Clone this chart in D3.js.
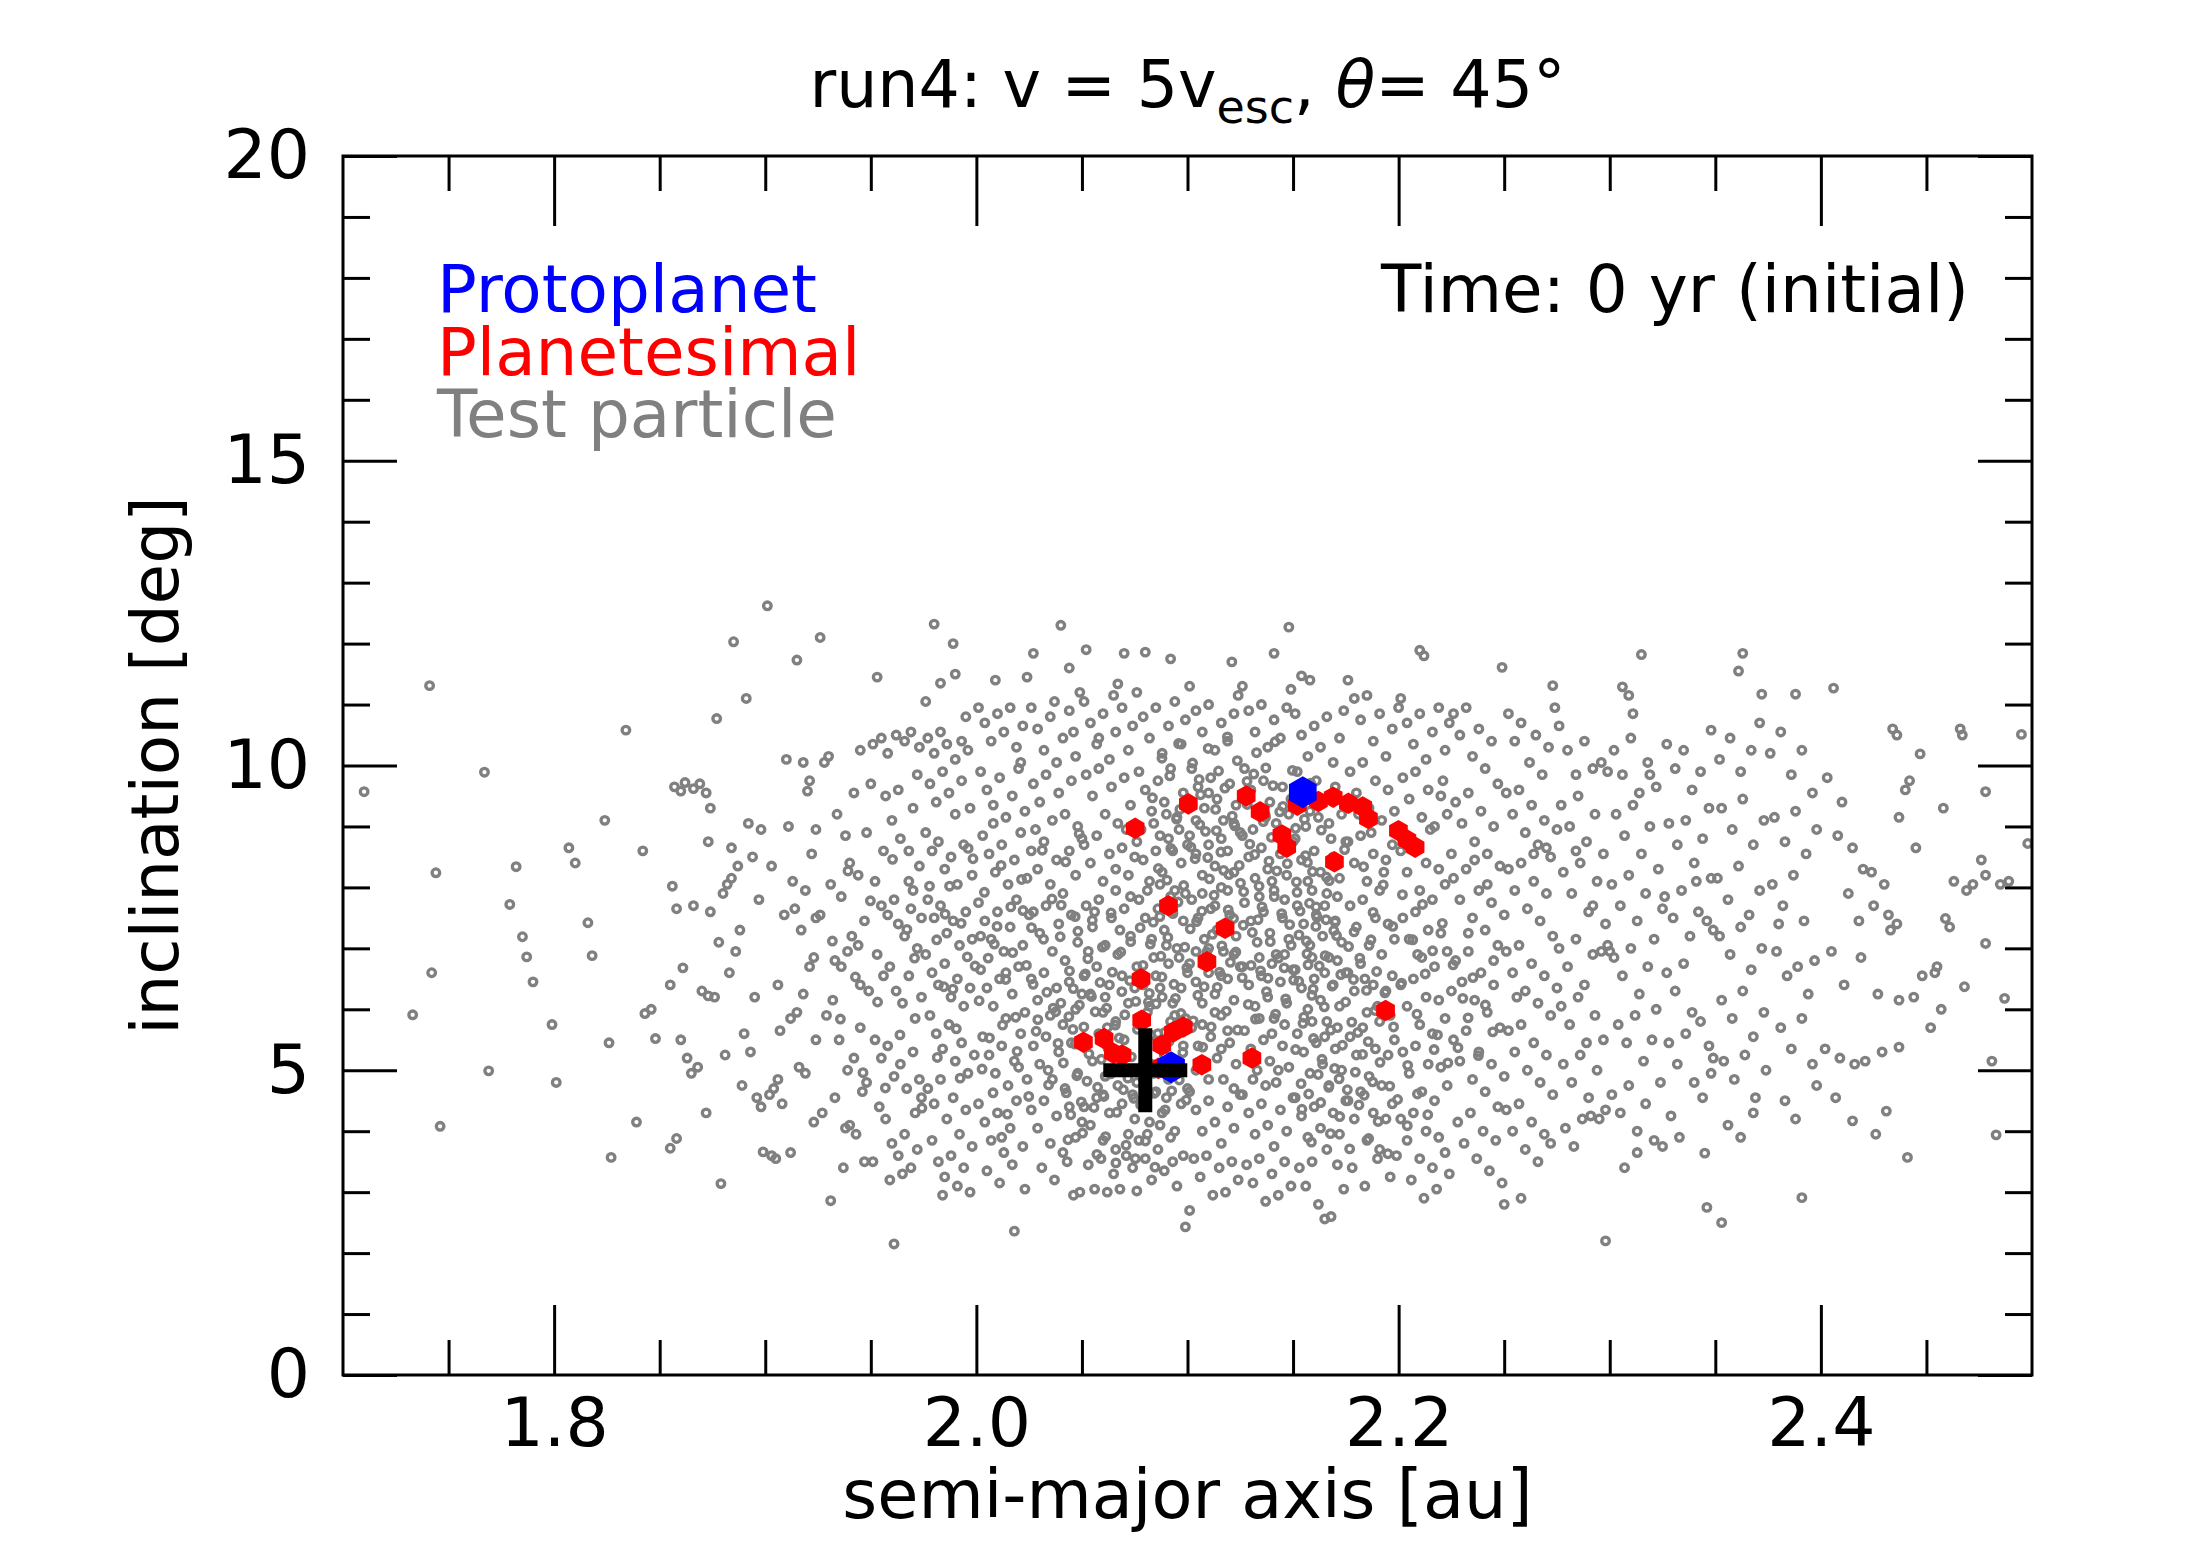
<!DOCTYPE html>
<html>
<head>
<meta charset="utf-8">
<script src="https://cdn.jsdelivr.net/npm/d3@7"></script>
<style>
  html, body { margin: 0; padding: 0; background: #fff; }
  svg text { font-family: "DejaVu Sans", sans-serif; }
</style>
</head>
<body>
<div id="chart"></div>
<script>
'use strict';

// tick values
var xMajor = [1.8, 2.0, 2.2, 2.4];
var xMinor = [1.75, 1.85, 1.9, 1.95, 2.05, 2.1, 2.15, 2.25, 2.3, 2.35, 2.45];
var yMajor = [0, 5, 10, 15, 20];
var yMinor = [1, 2, 3, 4, 6, 7, 8, 9, 11, 12, 13, 14, 16, 17, 18, 19];

// [semi-major axis au, inclination deg]
var protoplanets = [[2.1546, 9.56], [2.0922, 5.05]];
var target = [2.08, 5.0];

var planetesimals = [
  [2.0752, 8.97], [2.1004, 9.37], [2.1278, 9.50], [2.1344, 9.24], [2.1447, 8.86],
  [2.1470, 8.66], [2.1520, 9.35], [2.1620, 9.41], [2.1690, 9.48], [2.1762, 9.38],
  [2.1830, 9.32], [2.1857, 9.13], [2.1999, 8.93], [2.2039, 8.78], [2.2078, 8.66],
  [2.1696, 8.42], [2.0910, 7.70], [2.1178, 7.33], [2.1092, 6.78], [2.0780, 6.50],
  [2.1938, 5.98], [2.0507, 5.46], [2.0605, 5.52], [2.0649, 5.28], [2.0690, 5.25],
  [2.0783, 5.82], [2.0878, 5.41], [2.0933, 5.63], [2.0980, 5.71], [2.0862, 5.03],
  [2.1068, 5.09], [2.1305, 5.20]
];

var testLeft = [
  [1.710,9.57],[1.733,5.91],[1.741,11.31],[1.744,8.24],[1.742,6.60],[1.746,4.08],
  [1.767,9.89],[1.769,4.99],[1.779,7.72],[1.782,8.34],[1.785,7.19],[1.787,6.86],[1.790,6.45],[1.799,5.75],[1.801,4.80],
  [1.807,8.65],[1.810,8.40],[1.816,7.42],[1.818,6.88],[1.824,9.10],[1.826,5.45],[1.827,3.57],[1.834,10.58],[1.839,4.15],[1.842,8.60],[1.843,5.93],[1.846,6.00],[1.848,5.52],
  [1.857,9.65],[1.860,9.58],[1.862,9.72],[1.866,9.62],[1.869,9.70],[1.872,9.55],[1.856,8.02],[1.858,7.65],[1.855,6.40],[1.860,5.50],[1.863,5.20],[1.865,4.95],[1.868,5.05],[1.855,3.72],[1.858,3.88],[1.870,6.30],[1.873,6.22],[1.872,4.30],[1.861,6.68],[1.866,7.70],[1.874,7.60],[1.873,8.75],[1.874,9.30],
  [1.877,10.77],[1.885,12.03],[1.891,11.10],[1.880,7.90],[1.882,8.05],[1.884,8.15],[1.887,8.35],[1.879,3.14],[1.883,6.60],[1.886,6.95],[1.888,7.30],[1.892,9.05],[1.894,8.50],[1.878,7.10],[1.890,5.60],[1.893,5.30],[1.896,4.55],[1.898,4.40],[1.899,3.66],[1.897,7.80],[1.895,6.20],[1.881,5.25],[1.876,6.20],[1.889,4.75],[1.884,8.65],[1.898,8.95],
  [1.901,12.62],[1.910,10.10],[1.915,11.73],[1.920,9.58],[1.903,3.60],[1.905,3.55],[1.902,4.60],[1.904,4.70],[1.906,4.85],[1.908,4.45],[1.911,9.00],[1.913,8.10],[1.917,7.30],[1.919,7.95],[1.921,6.70],[1.907,5.65],[1.912,5.85],[1.915,5.95],[1.918,6.25],[1.923,6.85],[1.909,7.55],[1.914,7.65],[1.922,8.55],[1.924,8.95],[1.903,8.35],[1.916,5.05],[1.919,4.95],[1.924,5.50],[1.912,3.65],[1.921,9.75],[1.918,10.05],[1.924,7.50],[1.906,6.40],[1.923,4.15],
  [1.926,12.10],[1.931,2.86],[1.928,10.05],[1.930,10.15],[1.934,9.20],[1.938,8.85],[1.940,8.40],[1.942,9.55],[1.945,10.25],[1.933,6.80],[1.936,6.70],[1.939,6.95],[1.941,7.20],[1.944,7.05],[1.947,7.45],[1.929,5.90],[1.932,6.15],[1.935,5.50],[1.938,4.05],[1.940,4.10],[1.943,3.95],[1.946,4.65],[1.948,4.80],[1.927,4.30],[1.937,3.40],[1.942,5.20],[1.945,5.70],[1.949,6.30],[1.931,8.05],[1.936,7.85],[1.944,8.20],[1.948,8.90],[1.950,9.70],[1.926,7.55],[1.939,5.00],[1.947,3.50],[1.933,4.55],[1.945,6.40]
];

var testMidLeft = [
  [1.953,11.45],[1.961,2.15],[1.951,10.35],[1.955,10.45],[1.958,10.20],[1.962,10.50],[1.966,10.40],[1.969,10.55],[1.972,9.85],[1.957,9.50],[1.960,9.10],[1.964,8.80],[1.968,8.60],[1.970,9.30],[1.973,8.35],[1.952,8.10],[1.955,7.70],[1.958,7.55],[1.961,7.80],[1.963,7.40],[1.966,7.20],[1.969,7.65],[1.972,7.00],[1.974,7.50],[1.953,6.90],[1.956,6.55],[1.959,6.70],[1.962,6.30],[1.965,6.10],[1.968,6.55],[1.971,5.85],[1.974,6.20],[1.952,5.50],[1.955,5.20],[1.958,5.40],[1.961,4.90],[1.964,5.10],[1.967,4.70],[1.970,5.30],[1.973,4.85],[1.954,4.40],[1.957,4.20],[1.960,3.80],[1.963,3.60],[1.966,3.95],[1.969,3.40],[1.972,3.70],[1.959,3.20],[1.965,3.30],[1.971,4.30],[1.974,4.55],[1.951,3.50],[1.968,8.10],[1.956,8.60],[1.970,7.95],[1.963,9.60],[1.973,10.30],
  [1.980,12.32],[1.989,12.00],[1.977,10.45],[1.980,10.20],[1.983,10.55],[1.986,10.35],[1.990,10.10],[1.993,10.40],[1.996,10.25],[1.978,9.70],[1.981,9.40],[1.984,9.90],[1.987,9.55],[1.990,9.20],[1.993,9.75],[1.997,9.30],[1.976,8.90],[1.979,8.60],[1.982,8.75],[1.985,8.30],[1.988,8.50],[1.991,8.05],[1.994,8.70],[1.998,8.20],[1.977,7.80],[1.980,7.50],[1.983,7.70],[1.986,7.25],[1.989,7.45],[1.992,7.05],[1.995,7.60],[1.998,7.15],[1.976,6.90],[1.979,6.60],[1.982,6.40],[1.985,6.75],[1.988,6.20],[1.991,6.50],[1.994,6.05],[1.997,6.35],[1.978,5.90],[1.981,5.60],[1.984,5.35],[1.987,5.75],[1.990,5.15],[1.993,5.45],[1.996,4.95],[1.999,5.25],[1.977,4.70],[1.980,4.45],[1.983,4.85],[1.986,4.20],[1.989,4.55],[1.992,3.95],[1.995,4.35],[1.998,3.75],[1.979,3.85],[1.982,3.50],[1.985,3.25],[1.988,3.60],[1.991,3.10],[1.994,3.40],[1.997,3.00],[1.984,2.95],[1.990,11.50],[1.983,11.35],[1.995,10.80],[1.976,11.05],
  [2.009,11.40],[2.018,2.36],[2.001,10.95],[2.004,10.70],[2.007,10.40],[2.010,10.85],[2.013,10.55],[2.016,10.95],[2.019,10.30],[2.022,10.65],[2.024,11.45],[2.002,9.90],[2.005,9.60],[2.008,9.35],[2.011,9.80],[2.014,9.15],[2.017,9.50],[2.020,9.95],[2.023,9.25],[2.003,8.85],[2.006,8.55],[2.009,8.25],[2.012,8.70],[2.015,8.05],[2.018,8.45],[2.021,8.90],[2.024,8.15],[2.001,7.75],[2.004,7.45],[2.007,7.15],[2.010,7.60],[2.013,6.95],[2.016,7.35],[2.019,7.80],[2.022,7.05],[2.025,7.55],[2.002,6.65],[2.005,6.35],[2.008,6.05],[2.011,6.50],[2.014,5.85],[2.017,6.25],[2.020,6.70],[2.023,5.95],[2.003,5.55],[2.006,5.25],[2.009,4.95],[2.012,5.40],[2.015,4.75],[2.018,5.15],[2.021,5.60],[2.024,4.85],[2.001,4.45],[2.004,4.15],[2.007,3.85],[2.010,4.30],[2.013,3.65],[2.016,4.05],[2.019,4.50],[2.022,3.75],[2.005,3.35],[2.011,3.15],[2.017,3.45],[2.023,3.05],[2.008,9.05],[2.014,6.60],[2.020,5.05],[2.002,7.20],[2.012,3.90],[2.021,10.05],
  [2.027,11.84],[2.040,12.30],[2.026,10.95],[2.029,10.60],[2.032,10.25],[2.035,10.80],[2.038,10.05],[2.041,10.45],[2.044,10.90],[2.047,10.15],[2.049,11.20],[2.027,9.70],[2.030,9.40],[2.033,9.85],[2.036,9.10],[2.039,9.55],[2.042,9.20],[2.045,9.75],[2.048,9.00],[2.026,8.60],[2.029,8.30],[2.032,8.75],[2.035,8.05],[2.038,8.45],[2.041,7.90],[2.044,8.60],[2.047,8.20],[2.050,8.80],[2.027,7.60],[2.030,7.25],[2.033,7.70],[2.036,6.95],[2.039,7.40],[2.042,6.80],[2.045,7.55],[2.048,7.10],[2.026,6.50],[2.029,6.15],[2.032,6.60],[2.035,5.90],[2.038,6.35],[2.041,5.75],[2.044,6.45],[2.047,6.00],[2.050,6.25],[2.027,5.40],[2.030,5.10],[2.033,5.55],[2.036,4.85],[2.039,5.30],[2.042,4.70],[2.045,5.45],[2.048,4.95],[2.026,4.35],[2.029,4.05],[2.032,4.50],[2.035,3.80],[2.038,4.25],[2.041,3.65],[2.044,4.40],[2.047,3.90],[2.050,4.15],[2.031,3.40],[2.037,3.20],[2.043,3.50],[2.049,3.00],[2.046,2.95],[2.034,5.00],[2.040,6.10],[2.028,8.95],[2.046,10.55],[2.037,11.05],[2.044,11.60]
];

var testCore = [
  [2.052,11.90],[2.070,11.84],[2.067,11.34],[2.051,11.05],[2.054,10.70],[2.057,10.35],[2.060,10.85],[2.063,10.10],[2.066,10.55],[2.069,10.95],[2.072,10.25],[2.074,10.65],[2.052,9.85],[2.055,9.50],[2.058,9.95],[2.061,9.20],[2.064,9.65],[2.067,9.05],[2.070,9.80],[2.073,9.35],[2.051,8.70],[2.054,8.40],[2.057,8.85],[2.060,8.10],[2.063,8.55],[2.066,7.95],[2.069,8.65],[2.072,8.20],[2.075,8.50],[2.052,7.70],[2.055,7.35],[2.058,7.80],[2.061,7.05],[2.064,7.50],[2.067,6.90],[2.070,7.65],[2.073,7.20],[2.051,6.55],[2.054,6.25],[2.057,6.70],[2.060,5.95],[2.063,6.40],[2.066,5.80],[2.069,6.55],[2.072,6.10],[2.075,6.35],[2.052,5.45],[2.055,5.15],[2.058,5.60],[2.061,4.90],[2.064,5.35],[2.067,4.75],[2.070,5.50],[2.073,5.00],[2.051,4.40],[2.054,4.10],[2.057,4.55],[2.060,3.85],[2.063,4.30],[2.066,3.70],[2.069,4.45],[2.072,3.95],[2.075,4.20],[2.053,3.45],[2.056,3.05],[2.059,3.55],[2.062,3.00],[2.065,3.30],[2.068,3.05],[2.071,3.60],[2.074,3.40],[2.058,10.45],[2.065,11.15],[2.061,6.20],[2.068,7.30],[2.056,7.60],[2.071,8.95],[2.062,5.70],[2.074,4.60],[2.053,6.95],[2.066,8.30],[2.073,7.85],[2.060,4.60],
  [2.080,11.86],[2.092,11.75],[2.076,11.20],[2.079,10.80],[2.082,10.45],[2.085,10.95],[2.088,10.20],[2.091,10.65],[2.094,11.05],[2.097,10.35],[2.099,10.75],[2.077,9.90],[2.080,9.60],[2.083,9.25],[2.086,9.75],[2.089,9.40],[2.092,9.95],[2.095,9.15],[2.098,9.55],[2.076,8.75],[2.079,8.45],[2.082,8.10],[2.085,8.60],[2.088,8.25],[2.091,8.80],[2.094,7.95],[2.097,8.40],[2.100,8.70],[2.077,7.80],[2.080,7.50],[2.083,7.15],[2.086,7.65],[2.089,7.30],[2.092,7.85],[2.095,7.00],[2.098,7.45],[2.076,6.70],[2.079,6.40],[2.082,6.05],[2.085,6.55],[2.088,6.20],[2.091,6.75],[2.094,5.90],[2.097,6.35],[2.100,6.60],[2.077,5.75],[2.080,5.45],[2.083,5.10],[2.086,5.60],[2.089,5.25],[2.092,5.80],[2.095,4.95],[2.098,5.40],[2.076,4.80],[2.079,4.50],[2.082,4.15],[2.085,4.65],[2.088,4.30],[2.091,4.85],[2.094,4.00],[2.097,4.45],[2.100,4.70],[2.077,3.85],[2.080,3.55],[2.083,3.20],[2.086,3.70],[2.089,3.35],[2.092,3.90],[2.095,3.10],[2.098,3.60],[2.099,2.43],[2.101,2.70],[2.076,3.02],[2.078,8.95],[2.084,9.05],[2.087,8.85],[2.090,9.20],[2.093,8.60],[2.096,8.95],[2.081,7.95],[2.087,8.05],[2.093,7.60],[2.099,7.90],[2.084,6.85],[2.090,7.05],[2.096,6.85],[2.081,5.95],[2.087,6.35],[2.093,6.10],[2.099,5.85],[2.084,4.95],[2.090,4.55],[2.096,5.15],[2.081,3.95],[2.087,4.10],[2.093,3.50],
  [2.121,11.70],[2.101,11.30],[2.104,10.90],[2.107,10.55],[2.110,11.00],[2.113,10.25],[2.116,10.70],[2.119,10.40],[2.122,10.85],[2.124,11.15],[2.102,9.95],[2.105,9.65],[2.108,9.30],[2.111,9.80],[2.114,9.45],[2.117,9.10],[2.120,9.70],[2.123,9.35],[2.101,8.85],[2.104,8.55],[2.107,8.20],[2.110,8.70],[2.113,8.35],[2.116,8.00],[2.119,8.60],[2.122,8.25],[2.125,8.90],[2.102,7.80],[2.105,7.50],[2.108,7.15],[2.111,7.65],[2.114,7.30],[2.117,6.95],[2.120,7.55],[2.123,7.20],[2.101,6.75],[2.104,6.45],[2.107,6.10],[2.110,6.60],[2.113,6.25],[2.116,5.90],[2.119,6.50],[2.122,6.15],[2.125,6.70],[2.102,5.70],[2.105,5.40],[2.108,5.05],[2.111,5.55],[2.114,5.20],[2.117,4.85],[2.120,5.45],[2.123,5.10],[2.101,4.65],[2.104,4.35],[2.107,4.00],[2.110,4.50],[2.113,4.15],[2.116,3.80],[2.119,4.40],[2.122,4.05],[2.125,4.60],[2.103,3.55],[2.106,3.25],[2.109,3.60],[2.112,2.95],[2.115,3.40],[2.118,3.00],[2.121,3.50],[2.124,3.20],[2.104,9.10],[2.110,9.55],[2.116,8.80],[2.122,9.05],[2.107,7.90],[2.113,7.70],[2.119,7.95],[2.104,6.95],[2.110,7.00],[2.116,6.55],[2.122,6.90],[2.107,5.75],[2.113,5.95],[2.119,5.65],[2.104,5.00],[2.110,4.85],[2.116,5.35],[2.122,4.70],
  [2.141,11.84],[2.148,12.27],[2.126,11.30],[2.129,10.90],[2.132,10.55],[2.135,11.00],[2.138,10.30],[2.141,10.75],[2.144,10.45],[2.147,10.95],[2.149,11.25],[2.127,9.95],[2.130,9.60],[2.133,9.25],[2.136,9.75],[2.139,9.40],[2.142,9.05],[2.145,9.65],[2.148,9.20],[2.126,8.85],[2.129,8.50],[2.132,8.15],[2.135,8.65],[2.138,8.30],[2.141,7.95],[2.144,8.55],[2.147,8.20],[2.150,8.75],[2.127,7.75],[2.130,7.45],[2.133,7.10],[2.136,7.60],[2.139,7.25],[2.142,6.90],[2.145,7.50],[2.148,7.15],[2.126,6.70],[2.129,6.40],[2.132,6.05],[2.135,6.55],[2.138,6.20],[2.141,5.85],[2.144,6.45],[2.147,6.10],[2.150,6.65],[2.127,5.65],[2.130,5.35],[2.133,5.00],[2.136,5.50],[2.139,5.15],[2.142,4.80],[2.145,5.40],[2.148,5.05],[2.126,4.60],[2.129,4.30],[2.132,3.95],[2.135,4.45],[2.138,4.10],[2.141,3.75],[2.144,4.35],[2.147,4.00],[2.150,4.55],[2.128,3.45],[2.131,3.15],[2.134,3.55],[2.137,2.85],[2.140,3.30],[2.143,2.95],[2.146,3.50],[2.149,3.10],[2.131,8.95],[2.137,9.15],[2.143,8.85],[2.149,9.45],[2.134,7.85],[2.140,8.10],[2.146,7.80],[2.134,6.85],[2.140,6.75],[2.146,6.90],[2.134,5.85],[2.140,5.60],[2.146,5.75],[2.131,4.85],[2.137,4.75],[2.143,5.00]
];

// extra particles in the crowded centre of the cloud
var testDense = [
  [2.0815,6.12],[2.0838,7.43],[2.0862,8.31],[2.0874,6.87],[2.0893,5.62],[2.0907,7.18],[2.0921,8.64],[2.0936,6.41],[2.0948,9.12],[2.0955,7.76],[2.0969,5.93],[2.0982,8.03],[2.0997,6.68],[2.1008,9.41],[2.1013,7.32],[2.1027,5.81],[2.1036,8.47],[2.1049,6.23],[2.1055,9.77],[2.1068,7.61],[2.1072,5.38],[2.1085,8.92],[2.1091,6.94],[2.1104,8.14],[2.1112,5.71],[2.1126,7.87],[2.1133,9.28],[2.1141,6.36],[2.1158,8.58],[2.1163,7.04],[2.1177,9.63],[2.1184,5.97],[2.1196,8.21],[2.1203,6.77],[2.1218,7.49],[2.1224,9.01],[2.1237,5.66],[2.1245,8.36],[2.1259,6.52],[2.1266,7.93],[2.1273,9.54],[2.1288,6.08],[2.1295,8.71],[2.1307,7.26],[2.1314,9.86],[2.1322,5.84],[2.1339,8.02],[2.1346,6.63],[2.1353,7.68],[2.1368,9.19],[2.1374,6.29],[2.1386,8.43],[2.1392,7.11],[2.1405,9.67],[2.1417,5.92],[2.1423,8.27],[2.1431,6.84],[2.1446,7.57],[2.1452,9.33],[2.1465,6.17],[2.1478,8.66],[2.1484,7.39],[2.1497,9.92],[2.1503,6.48],[2.1516,8.09],[2.1528,7.22],[2.1535,9.46],[2.1547,5.77],[2.1559,8.52],[2.1566,6.91],[2.1578,7.74],[2.1583,9.71],[2.1595,6.33],
  [2.0412,5.12],[2.0426,4.63],[2.0438,5.88],[2.0447,4.27],[2.0459,6.34],[2.0468,5.43],[2.0476,4.91],[2.0488,6.07],[2.0497,4.48],[2.0509,5.71],[2.0516,6.58],[2.0524,4.82],[2.0533,5.27],[2.0545,6.21],[2.0557,4.39],[2.0563,5.96],[2.0574,4.72],[2.0586,6.44],[2.0592,5.18],[2.0604,4.57],[2.0617,6.02],[2.0623,5.36],[2.0636,4.94],[2.0644,6.61],[2.0658,5.74],[2.0665,4.31],[2.0677,5.53],[2.0689,6.29],[2.0696,4.68],[2.0703,5.91],[2.0718,4.87],[2.0727,6.47],[2.0734,5.22],[2.0746,4.54],[2.0755,6.13],[2.0763,5.67],[2.0778,4.43],[2.0789,6.72],[2.0795,5.31],[2.0807,4.76],[2.0819,6.26],[2.0826,5.58],[2.0842,4.62],[2.0851,6.09],[2.0867,4.98],[2.0879,6.53],[2.0894,4.35],[2.0912,5.47],[2.0925,4.66],[2.0943,6.18],[2.0961,4.84],[2.0978,5.29],[2.0994,4.51],
  [2.1512,5.34],[2.1527,6.46],[2.1538,4.78],[2.1551,5.87],[2.1563,7.12],[2.1574,4.61],[2.1589,6.23],[2.1597,5.52],[2.1608,7.36],[2.1619,4.93],[2.1624,6.71],[2.1637,5.18],[2.1648,6.04],[2.1656,7.47],[2.1669,4.72],[2.1678,5.66],[2.1685,6.38],[2.1697,5.03],[2.1706,7.21],[2.1718,4.86],[2.1726,6.57],[2.1734,5.41],[2.1749,6.12],[2.1757,4.68],[2.1763,7.03],[2.1778,5.79],[2.1786,6.49],[2.1795,4.97],[2.1807,5.62],[2.1816,6.84],[2.1829,5.26],[2.1837,4.59],[2.1848,6.31],[2.1856,5.47],[2.1869,7.14],[2.1877,4.81],[2.1888,5.98],[2.1896,6.62],[2.1912,5.13],[2.1935,6.27],[2.1958,4.74],[2.1976,5.71],[2.2014,6.43],[2.2043,5.08],[2.2087,5.92],[2.2126,6.58],[2.2168,5.34],
  [1.9812,7.14],[1.9846,6.37],[1.9873,8.02],[1.9905,5.68],[1.9928,7.41],[1.9957,6.86],[1.9984,8.47],[2.0013,6.14],[2.0038,7.92],[2.0062,5.53],[2.0085,7.07],[2.0117,8.36],[2.0139,6.49],[2.0163,7.68],[2.0186,5.87],[2.0214,8.13],[2.0237,6.72],[2.0261,7.34],[2.0283,5.64],[2.0312,8.61],[2.0334,6.28],[2.0358,7.81],[2.0376,5.96],[2.0397,7.19],[2.0423,8.42],[2.0441,6.63],[2.0468,7.52],[2.0487,8.88],
  [2.0834,9.47],[2.0879,10.12],[2.0916,9.83],[2.0958,10.36],[2.1024,10.04],[2.1062,9.52],[2.1098,10.28],[2.1147,9.91],[2.1189,10.47],[2.1236,10.08],[2.1282,9.74],[2.1327,10.21],[2.1371,9.96],[2.1415,10.39]
];

var testDense2 = [
  [2.0903,8.12],[2.0931,7.57],[2.0964,9.28],[2.0987,7.02],[2.1016,8.66],[2.1043,7.44],[2.1058,9.03],[2.1079,6.37],[2.1096,8.49],[2.1118,7.23],[2.1137,8.93],[2.1152,6.61],[2.1171,8.28],[2.1193,7.63],[2.1212,9.17],[2.1229,6.94],[2.1251,8.07],[2.1264,7.38],[2.1283,9.36],[2.1301,6.72],[2.1318,8.54],[2.1334,7.47],[2.1359,9.08],[2.1381,6.51],[2.1398,8.82],[2.1411,7.85],[2.1437,9.24],[2.1458,6.68],[2.1473,8.39],[2.1491,7.05],[2.1512,8.97],[2.1533,7.61],[2.1554,9.12],[2.1571,6.73],[2.1592,8.26],[2.1613,7.51],[2.1634,8.94],[2.1652,6.88],[2.1671,8.11],[2.1693,7.29],
  [2.0027,5.02],[2.0056,6.84],[2.0079,4.63],[2.0098,7.36],[2.0124,5.74],[2.0147,4.28],[2.0172,6.93],[2.0193,5.31],[2.0221,7.62],[2.0248,4.57],[2.0269,6.41],[2.0291,5.83],[2.0318,7.15],[2.0342,4.76],[2.0364,6.02],[2.0387,5.44],[2.0402,7.71],[2.0434,3.86],[2.0457,5.67],[2.0481,7.28],[2.0503,3.97],[2.0528,6.83],[2.0549,7.46],[2.0571,3.62],[2.0597,7.02],[2.0612,3.91],[2.0638,7.58],[2.0661,3.48],[2.0684,6.94],[2.0709,3.77],[2.0731,7.11],[2.0753,3.55],[2.0776,7.34],[2.0801,3.84],[2.0824,7.07],[2.0846,3.41],[2.0869,7.52],
  [2.1519,7.92],[2.1542,4.36],[2.1568,8.41],[2.1587,3.82],[2.1609,7.68],[2.1631,4.47],[2.1658,8.17],[2.1677,3.96],[2.1699,7.43],[2.1721,4.24],[2.1744,8.62],[2.1768,3.71],[2.1789,7.27],[2.1812,4.43],[2.1834,8.34],[2.1858,3.88],[2.1879,7.59],[2.1903,4.16],[2.1927,8.04],[2.1949,3.63],[2.1972,7.36],[2.1995,4.52],[2.2018,7.88],[2.2041,4.09],[2.2067,7.14],[2.2089,4.61],[2.2113,7.72],[2.2138,4.27],[2.2161,6.96],[2.2184,5.58],[2.2207,7.41],[2.2233,5.12],[2.2258,6.73],[2.2281,5.37],[2.2304,6.18],[2.2329,5.86],[2.2352,6.52],[2.2378,5.24],[2.2411,6.07],[2.2446,5.63],
  [1.9318,7.12],[1.9356,5.84],[1.9392,8.27],[1.9427,6.53],[1.9463,4.96],[1.9498,7.78],[1.9532,6.12],[1.9569,4.71],[1.9603,8.46],[1.9638,5.58],[1.9671,7.31],[1.9707,6.84],[1.9742,4.38],[1.9778,8.02],[1.9815,5.21],[1.9852,7.56],[1.9889,6.33],[1.9923,4.87],[1.9961,8.64],[1.9994,6.71]
];

var testMidRight = [
  [2.154,11.47],[2.158,11.40],[2.151,10.85],[2.154,10.50],[2.157,10.15],[2.160,10.65],[2.163,10.30],[2.166,10.80],[2.169,10.05],[2.172,10.45],[2.174,10.90],[2.152,9.90],[2.155,9.60],[2.158,9.25],[2.161,9.75],[2.164,9.40],[2.167,9.05],[2.170,9.65],[2.173,9.20],[2.151,8.80],[2.154,8.45],[2.157,8.10],[2.160,8.60],[2.163,8.25],[2.166,7.90],[2.169,8.50],[2.172,8.15],[2.175,8.75],[2.152,7.70],[2.155,7.40],[2.158,7.05],[2.161,7.55],[2.164,7.20],[2.167,6.85],[2.170,7.45],[2.173,7.10],[2.151,6.65],[2.154,6.35],[2.157,6.00],[2.160,6.50],[2.163,6.15],[2.166,5.80],[2.169,6.40],[2.172,6.05],[2.175,6.60],[2.152,5.60],[2.155,5.30],[2.158,4.95],[2.161,5.45],[2.164,5.10],[2.167,4.75],[2.170,5.35],[2.173,5.00],[2.151,4.55],[2.154,4.25],[2.157,3.90],[2.160,4.40],[2.163,4.05],[2.166,3.70],[2.169,4.30],[2.172,3.95],[2.175,4.50],[2.153,3.40],[2.156,3.10],[2.159,3.50],[2.162,2.80],[2.165,2.56],[2.168,2.60],[2.171,3.45],[2.174,3.05],[2.156,9.00],[2.162,9.15],[2.168,8.80],[2.159,7.95],[2.165,7.70],[2.171,7.85],[2.159,6.85],[2.165,6.60],[2.171,6.80],[2.159,5.80],[2.165,5.55],[2.171,5.70],
  [2.176,11.40],[2.179,11.10],[2.182,10.75],[2.185,11.15],[2.188,10.40],[2.191,10.85],[2.194,10.15],[2.197,10.60],[2.200,10.95],[2.177,9.90],[2.180,9.55],[2.183,10.05],[2.186,9.30],[2.189,9.75],[2.192,9.10],[2.195,9.60],[2.198,9.25],[2.176,8.75],[2.179,8.40],[2.182,8.85],[2.185,8.10],[2.188,8.55],[2.191,7.95],[2.194,8.45],[2.197,8.70],[2.177,7.70],[2.180,7.35],[2.183,7.80],[2.186,7.05],[2.189,7.50],[2.192,6.90],[2.195,7.40],[2.198,7.15],[2.176,6.60],[2.179,6.30],[2.182,6.75],[2.185,5.95],[2.188,6.40],[2.191,5.80],[2.194,6.30],[2.197,6.55],[2.177,5.55],[2.180,5.25],[2.183,5.70],[2.186,4.90],[2.189,5.35],[2.192,4.75],[2.195,5.25],[2.198,5.50],[2.176,4.50],[2.179,4.20],[2.182,4.65],[2.185,3.85],[2.188,4.30],[2.191,3.70],[2.194,4.20],[2.197,4.45],[2.178,3.40],[2.184,3.10],[2.190,3.55],[2.196,3.25],[2.199,3.60],[2.181,9.20],[2.187,8.90],[2.193,8.25],[2.184,6.50],[2.190,6.05],[2.196,5.90],
  [2.210,11.89],[2.212,11.80],[2.201,11.10],[2.204,10.70],[2.207,10.35],[2.210,10.85],[2.213,10.10],[2.216,10.55],[2.219,10.95],[2.222,10.25],[2.224,10.70],[2.202,9.80],[2.205,9.45],[2.208,9.90],[2.211,9.15],[2.214,9.60],[2.217,9.00],[2.220,9.50],[2.223,9.20],[2.201,8.60],[2.204,8.25],[2.207,8.70],[2.210,7.95],[2.213,8.40],[2.216,7.80],[2.219,8.30],[2.222,8.05],[2.225,8.55],[2.202,7.50],[2.205,7.15],[2.208,7.60],[2.211,6.85],[2.214,7.30],[2.217,6.70],[2.220,7.25],[2.223,6.95],[2.201,6.40],[2.204,6.05],[2.207,6.50],[2.210,5.75],[2.213,6.20],[2.216,5.60],[2.219,6.15],[2.222,5.85],[2.225,6.30],[2.202,5.30],[2.205,4.95],[2.208,5.40],[2.211,4.65],[2.214,5.10],[2.217,4.50],[2.220,5.05],[2.223,4.75],[2.201,4.20],[2.204,3.85],[2.207,4.30],[2.210,3.55],[2.213,4.00],[2.216,3.40],[2.219,3.90],[2.222,3.65],[2.206,3.20],[2.212,2.90],[2.218,3.05],[2.224,3.30],[2.215,8.95],[2.221,9.75],[2.209,6.90],
  [2.226,10.85],[2.229,10.50],[2.232,10.95],[2.235,10.15],[2.238,10.60],[2.241,9.95],[2.244,10.40],[2.247,9.70],[2.249,11.61],[2.227,9.40],[2.230,9.05],[2.233,9.55],[2.236,8.75],[2.239,9.25],[2.242,8.55],[2.245,9.00],[2.248,8.35],[2.226,8.15],[2.229,7.80],[2.232,8.30],[2.235,7.50],[2.238,7.95],[2.241,7.30],[2.244,7.75],[2.247,7.05],[2.250,7.55],[2.227,6.80],[2.230,6.45],[2.233,6.95],[2.236,6.15],[2.239,6.60],[2.242,5.95],[2.245,6.40],[2.248,5.70],[2.226,5.50],[2.229,5.15],[2.232,5.65],[2.235,4.85],[2.238,5.30],[2.241,4.65],[2.244,5.10],[2.247,4.40],[2.250,4.90],[2.228,4.15],[2.231,3.80],[2.234,4.30],[2.237,3.55],[2.240,4.00],[2.243,3.35],[2.246,3.85],[2.249,3.15],[2.250,2.80],[2.236,8.45],[2.242,8.05],[2.233,7.25],[2.245,6.80]
];

var testRight = [
  [2.273,11.31],[2.252,10.85],[2.255,10.40],[2.258,10.70],[2.262,10.05],[2.265,10.50],[2.268,9.85],[2.271,10.30],[2.274,10.95],[2.251,9.55],[2.254,9.20],[2.257,9.60],[2.260,8.90],[2.263,9.35],[2.266,8.70],[2.269,9.10],[2.272,8.50],[2.275,8.95],[2.252,8.30],[2.255,7.95],[2.258,8.40],[2.261,7.65],[2.264,8.10],[2.267,7.45],[2.270,7.90],[2.273,7.20],[2.251,6.95],[2.254,6.60],[2.257,7.05],[2.260,6.30],[2.263,6.75],[2.266,6.10],[2.269,6.55],[2.272,5.90],[2.275,6.35],[2.252,5.65],[2.255,5.30],[2.258,5.75],[2.261,5.00],[2.264,5.45],[2.267,4.80],[2.270,5.25],[2.273,4.60],[2.251,4.35],[2.254,4.00],[2.257,4.45],[2.260,3.70],[2.263,4.15],[2.266,3.50],[2.269,3.95],[2.272,3.80],[2.258,2.90],[2.264,8.55],[2.270,8.65],[2.256,6.20],
  [2.276,10.65],[2.280,10.25],[2.284,9.85],[2.288,10.40],[2.292,9.95],[2.296,10.05],[2.299,9.90],[2.277,9.35],[2.281,9.00],[2.285,9.50],[2.289,8.75],[2.293,9.20],[2.297,8.55],[2.278,8.25],[2.282,7.90],[2.286,8.40],[2.290,7.60],[2.294,8.10],[2.298,7.40],[2.276,7.00],[2.280,6.70],[2.284,7.15],[2.288,6.40],[2.292,6.90],[2.296,6.95],[2.299,7.05],[2.277,6.05],[2.281,5.75],[2.285,6.20],[2.289,5.45],[2.293,5.90],[2.297,5.50],[2.278,5.10],[2.282,4.80],[2.286,5.25],[2.290,4.55],[2.294,5.00],[2.298,4.35],[2.279,4.05],[2.283,3.75],[2.287,4.20],[2.291,4.25],[2.295,4.20],[2.298,2.20],[2.284,8.60],[2.292,7.70],[2.300,6.95],
  [2.306,11.29],[2.315,11.82],[2.309,11.15],[2.302,10.25],[2.306,9.85],[2.310,10.45],[2.314,9.55],[2.318,10.05],[2.322,9.65],[2.303,9.20],[2.307,8.85],[2.311,9.35],[2.315,8.55],[2.319,9.00],[2.323,8.30],[2.301,8.05],[2.305,7.70],[2.309,8.20],[2.313,7.45],[2.317,7.90],[2.321,7.15],[2.325,7.65],[2.302,6.85],[2.306,6.55],[2.310,7.00],[2.314,6.25],[2.318,6.70],[2.322,6.00],[2.304,5.75],[2.308,5.45],[2.312,5.90],[2.316,5.15],[2.320,5.50],[2.324,4.80],[2.301,4.60],[2.305,4.30],[2.309,4.75],[2.313,4.00],[2.317,4.45],[2.321,3.85],[2.325,3.75],[2.307,3.40],[2.313,3.65],[2.319,9.85],[2.311,10.85],
  [2.348,10.58],[2.327,10.35],[2.331,9.95],[2.335,10.25],[2.339,9.60],[2.343,9.90],[2.347,9.30],[2.328,9.05],[2.332,8.70],[2.336,9.10],[2.340,8.40],[2.344,8.80],[2.348,8.15],[2.326,7.85],[2.330,7.50],[2.334,7.95],[2.338,7.20],[2.342,7.60],[2.346,7.45],[2.349,7.30],[2.327,6.60],[2.331,6.30],[2.335,6.75],[2.339,5.95],[2.343,5.80],[2.347,5.40],[2.328,5.45],[2.332,5.10],[2.336,5.60],[2.340,4.80],[2.344,4.55],[2.348,4.95],[2.329,4.25],[2.333,3.90],[2.345,3.64],[2.346,2.75],[2.349,5.20],[2.341,8.10],
  [2.353,2.50],[2.363,11.84],[2.361,11.55],[2.372,11.17],[2.352,10.10],[2.357,10.45],[2.362,9.90],[2.367,10.25],[2.371,10.70],[2.353,9.30],[2.358,8.95],[2.363,9.45],[2.368,8.70],[2.373,9.10],[2.351,8.15],[2.356,7.80],[2.361,8.35],[2.366,7.55],[2.371,7.95],[2.352,7.20],[2.357,6.90],[2.362,7.35],[2.367,6.65],[2.372,7.00],[2.353,6.15],[2.358,5.85],[2.363,6.30],[2.368,5.55],[2.373,5.95],[2.354,5.15],[2.359,4.85],[2.364,5.25],[2.369,4.55],[2.374,5.00],[2.356,4.10],[2.362,3.90],[2.368,4.30],
  [2.388,11.17],[2.376,10.20],[2.381,10.55],[2.386,9.85],[2.391,10.25],[2.396,9.55],[2.378,9.15],[2.383,8.75],[2.388,9.25],[2.393,8.55],[2.398,8.95],[2.377,8.05],[2.382,7.70],[2.387,8.20],[2.392,7.45],[2.397,6.80],[2.379,6.95],[2.384,6.55],[2.389,6.70],[2.394,6.25],[2.381,5.70],[2.386,5.35],[2.391,5.85],[2.396,5.10],[2.383,4.50],[2.388,4.20],[2.391,2.91],[2.398,4.75],[2.380,7.40],
  [2.406,11.27],[2.434,10.60],[2.436,10.50],[2.447,10.19],[2.403,9.80],[2.410,9.40],[2.415,8.65],[2.420,8.30],[2.424,8.25],[2.430,8.05],[2.437,9.15],[2.440,9.60],[2.442,9.75],[2.445,8.65],[2.408,8.85],[2.413,7.90],[2.418,7.45],[2.425,7.70],[2.432,7.55],[2.436,7.40],[2.405,6.95],[2.411,6.40],[2.419,6.85],[2.427,6.25],[2.437,6.15],[2.444,6.20],[2.402,5.35],[2.409,5.20],[2.416,5.10],[2.421,5.15],[2.429,5.30],[2.437,5.38],[2.407,4.55],[2.415,4.17],[2.426,3.95],[2.431,4.33],[2.441,3.57],[2.448,6.55],[2.433,7.30],
  [2.454,6.60],[2.455,6.70],[2.457,6.00],[2.459,7.49],[2.461,7.35],[2.463,8.10],[2.466,10.60],[2.467,10.50],[2.469,7.95],[2.468,6.37],[2.472,8.05],[2.478,9.57],[2.478,7.08],[2.478,8.20],[2.481,5.15],[2.483,3.94],[2.485,8.05],[2.487,6.18],[2.489,8.10],[2.495,10.51],[2.498,8.72],[2.452,5.70],[2.476,8.45],[2.458,9.30]
];

var testParticles = testLeft.concat(testMidLeft, testCore, testDense, testDense2, testMidRight, testRight);

var W = 2188, H = 1563;
var plotL = 343, plotR = 2032, plotT = 156, plotB = 1375;
var font = '"DejaVu Sans", sans-serif';
var grey = '#808080';

var svg = d3.select('#chart').append('svg')
    .attr('width', W)
    .attr('height', H)
    .attr('viewBox', '0 0 ' + W + ' ' + H);

svg.append('rect').attr('width', W).attr('height', H).attr('fill', '#fff');

var x = d3.scaleLinear().domain([1.7, 2.5]).range([plotL, plotR]);
var y = d3.scaleLinear().domain([0, 20]).range([plotB, plotT]);

// pointy-top hexagon, like matplotlib's 'h' marker
function hexagon(r) {
  var pts = d3.range(6).map(function(k) {
    var a = Math.PI / 2 + k * Math.PI / 3;
    return [r * Math.cos(a), r * Math.sin(a)];
  });
  return 'M' + pts.join('L') + 'Z';
}

svg.append('clipPath').attr('id', 'plotclip')
  .append('rect')
    .attr('x', plotL).attr('y', plotT)
    .attr('width', plotR - plotL).attr('height', plotB - plotT);

var plot = svg.append('g').attr('clip-path', 'url(#plotclip)');

plot.append('g').selectAll('circle')
  .data(testParticles)
  .enter()
    .append('circle')
    .attr('cx', function(d) { return x(d[0]); })
    .attr('cy', function(d) { return y(d[1]); })
    .attr('r', 3.8)
    .attr('fill', 'none')
    .attr('stroke', grey)
    .attr('stroke-width', 3.3);

plot.append('g').selectAll('path')
  .data(planetesimals)
  .enter()
    .append('path')
    .attr('d', hexagon(10.8))
    .attr('transform', function(d) { return 'translate(' + x(d[0]) + ',' + y(d[1]) + ')'; })
    .attr('fill', '#ff0000');

plot.append('g').selectAll('path')
  .data(protoplanets)
  .enter()
    .append('path')
    .attr('d', hexagon(16))
    .attr('transform', function(d) { return 'translate(' + x(d[0]) + ',' + y(d[1]) + ')'; })
    .attr('fill', '#0000ff');

// impact target marker
var tx = x(target[0]), ty = y(target[1]);
plot.append('path')
  .attr('d', 'M' + (tx - 42) + ',' + ty + 'H' + (tx + 42) + 'M' + tx + ',' + (ty - 42) + 'V' + (ty + 42))
  .attr('stroke', '#000')
  .attr('stroke-width', 14)
  .attr('fill', 'none');

// axes, ticks pointing inward on all four sides
function styleAxis(g, size) {
  g.select('.domain').remove();
  g.selectAll('.tick line').attr('stroke', '#000').attr('stroke-width', 3);
  g.selectAll('.tick text')
    .attr('fill', '#000')
    .style('font-family', font)
    .style('font-size', size + 'px');
}

var noLabel = function() { return ''; };

svg.append('g').attr('transform', 'translate(0,' + plotB + ')')
  .call(d3.axisBottom(x).tickValues(xMajor).tickSize(-70).tickPadding(23).tickFormat(d3.format('.1f')))
  .call(styleAxis, 68);
svg.append('g').attr('transform', 'translate(0,' + plotB + ')')
  .call(d3.axisBottom(x).tickValues(xMinor).tickSize(-35).tickFormat(noLabel))
  .call(styleAxis, 68);
svg.append('g').attr('transform', 'translate(0,' + plotT + ')')
  .call(d3.axisTop(x).tickValues(xMajor).tickSize(-70).tickFormat(noLabel))
  .call(styleAxis, 68);
svg.append('g').attr('transform', 'translate(0,' + plotT + ')')
  .call(d3.axisTop(x).tickValues(xMinor).tickSize(-35).tickFormat(noLabel))
  .call(styleAxis, 68);

svg.append('g').attr('transform', 'translate(' + plotL + ',0)')
  .call(d3.axisLeft(y).tickValues(yMajor).tickSize(-54).tickPadding(33).tickFormat(d3.format('d')))
  .call(styleAxis, 68);
svg.append('g').attr('transform', 'translate(' + plotL + ',0)')
  .call(d3.axisLeft(y).tickValues(yMinor).tickSize(-27).tickFormat(noLabel))
  .call(styleAxis, 68);
svg.append('g').attr('transform', 'translate(' + plotR + ',0)')
  .call(d3.axisRight(y).tickValues(yMajor).tickSize(-54).tickFormat(noLabel))
  .call(styleAxis, 68);
svg.append('g').attr('transform', 'translate(' + plotR + ',0)')
  .call(d3.axisRight(y).tickValues(yMinor).tickSize(-27).tickFormat(noLabel))
  .call(styleAxis, 68);

// frame
svg.append('rect')
  .attr('x', plotL).attr('y', plotT)
  .attr('width', plotR - plotL).attr('height', plotB - plotT)
  .attr('fill', 'none')
  .attr('stroke', '#000')
  .attr('stroke-width', 3);

// title
var title = svg.append('text')
  .attr('x', (plotL + plotR) / 2)
  .attr('y', 107)
  .attr('text-anchor', 'middle')
  .style('font-family', font)
  .style('font-size', '65px');
title.append('tspan').text('run4: v = 5v');
title.append('tspan').attr('dy', 16).style('font-size', '46px').text('esc');
title.append('tspan').attr('dy', -16).text(', ');
title.append('tspan').style('font-style', 'italic').text('\u03b8');
title.append('tspan').text('= 45\u00b0');

// axis labels
svg.append('text')
  .attr('x', (plotL + plotR) / 2)
  .attr('y', 1518)
  .attr('text-anchor', 'middle')
  .style('font-family', font)
  .style('font-size', '67px')
  .text('semi-major axis [au]');

svg.append('text')
  .attr('transform', 'translate(178,' + ((plotT + plotB) / 2) + ') rotate(-90)')
  .attr('text-anchor', 'middle')
  .style('font-family', font)
  .style('font-size', '66px')
  .text('inclination [deg]');

// legend as coloured labels
var legend = [
  {label: 'Protoplanet', color: '#0000ff'},
  {label: 'Planetesimal', color: '#ff0000'},
  {label: 'Test particle', color: grey}
];
svg.append('g').selectAll('text')
  .data(legend)
  .enter()
    .append('text')
    .attr('x', 437)
    .attr('y', function(d, i) { return 312 + i * 62.5; })
    .attr('fill', function(d) { return d.color; })
    .style('font-family', font)
    .style('font-size', '66px')
    .text(function(d) { return d.label; });

svg.append('text')
  .attr('x', 1969)
  .attr('y', 312)
  .attr('text-anchor', 'end')
  .style('font-family', font)
  .style('font-size', '66px')
  .text('Time: 0 yr (initial)');
</script>
</body>
</html>
